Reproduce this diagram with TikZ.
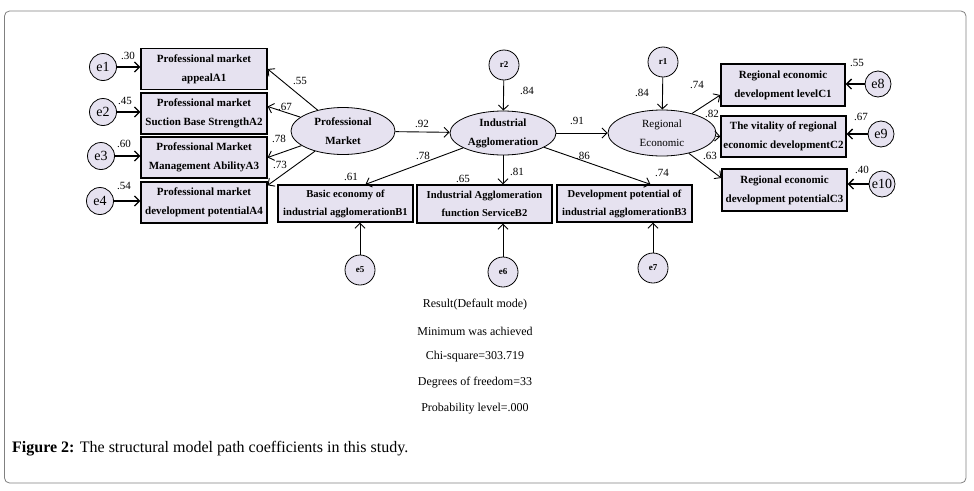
\documentclass[tikz,border=0pt]{standalone}
\usepackage{fontspec}
\setmainfont{Liberation Serif}
\usetikzlibrary{arrows.meta,shapes.geometric}
\definecolor{lav}{RGB}{230,226,240}

\begin{document}
\begin{tikzpicture}[x=1pt,y=-1pt,
    obs/.style={draw,line width=1.3pt,fill=lav,minimum width=126pt,minimum height=41pt,align=center,inner sep=1pt,font=\bfseries\fontsize{11}{19}\selectfont},
    lat/.style={draw,ellipse,fill=lav,line width=0.8pt,align=center,inner sep=0pt,font=\bfseries\fontsize{11}{19}\selectfont},
    err/.style={draw,circle,fill=lav,line width=0.8pt,inner sep=0pt,minimum size=27pt,font=\fontsize{14}{14}\selectfont},
    arr/.style={-{Straight Barb[length=5pt,width=10pt]},line width=0.9pt},
    coef/.style={inner sep=0pt,font=\fontsize{11}{11}\selectfont},
    stat/.style={inner sep=0pt,font=\fontsize{12}{12}\selectfont}]
    \useasboundingbox (0,0) rectangle (974,490);
    \draw[gray,rounded corners=5pt,line width=0.8pt] (4.5,11) rectangle (966,483);

    % professional market indicators
    \node[obs] (A1) at (204,69) {Professional market\\appealA1};
    \node[obs] (A2) at (204,113.5) {Professional market\\Suction Base StrengthA2};
    \node[obs] (A3) at (204,157.5) {Professional Market\\Management AbilityA3};
    \node[obs] (A4) at (204,202.5) {Professional market\\development potentialA4};
    \foreach \i/\x/\y in {1/103/67,2/103/112,3/101/156,4/100/201}{
        \node[err] (e\i) at (\x,\y) {e\i};
        \draw[arr,line width=1.3pt] (e\i) -- (e\i -| A\i.west);
    }

    % latent variables
    \node[lat,minimum width=104pt,minimum height=47pt] (PM) at (343,131) {Professional\\Market};
    \node[lat,minimum width=106pt,minimum height=44pt] (IA) at (503,133) {Industrial\\Agglomeration};
    \node[lat,minimum width=108pt,minimum height=46pt,font=\fontsize{11}{19}\selectfont] (RE) at (662,133) {Regional\\Economic};
    \node[err,minimum size=30pt,font=\bfseries\small] (r2) at (504,65) {r2};
    \node[err,minimum size=30pt,font=\bfseries\small] (r1) at (663,62) {r1};

    % industrial agglomeration indicators
    \node[obs,minimum width=135pt,minimum height=37pt,font=\bfseries\fontsize{10.6}{18}\selectfont] (B1) at (345.5,203.5) {Basic economy of\\industrial agglomerationB1};
    \node[obs,minimum width=135pt,minimum height=38pt,font=\bfseries\fontsize{10.6}{18}\selectfont] (B2) at (484.5,204) {Industrial Agglomeration\\function ServiceB2};
    \node[obs,minimum width=135pt,minimum height=37pt,font=\bfseries\fontsize{10.6}{18}\selectfont] (B3) at (624.5,203.5) {Development potential of\\industrial agglomerationB3};
    \foreach \i/\b/\x/\y in {5/B1/360/270,6/B2/503/272,7/B3/653/268}{
        \node[err,minimum size=30pt,font=\bfseries\small] (e\i) at (\x,\y) {e\i};
        \draw[arr] (e\i) -- (e\i |- \b.south);
    }

    % regional economic indicators
    \node[obs,minimum width=124pt,minimum height=42pt] (C1) at (783,85) {Regional economic\\development levelC1};
    \node[obs,minimum width=125pt,minimum height=41pt] (C2) at (783.5,136.5) {The vitality of regional\\economic developmentC2};
    \node[obs,minimum width=125pt,minimum height=42pt] (C3) at (784.5,190) {Regional economic\\development potentialC3};
    \foreach \i/\c/\x/\y in {8/C1/878/84,9/C2/881/134,10/C3/882/184}{
        \node[err,minimum size=26pt] (e\i) at (\x,\y) {e\i};
        \draw[arr,line width=1.3pt] (e\i) -- (e\i -| \c.east);
    }

    % paths
    \draw[arr] (PM) -- (A1.east);
    \draw[arr] (PM) -- ([yshift=7pt]A2.east);
    \draw[arr] (PM) -- (A3.east);
    \draw[arr] (PM) -- ([yshift=-4pt]A4.north east);
    \draw[arr] (PM) -- (IA);
    \draw[arr] (IA) -- (RE);
    \draw[arr] (r2) -- (IA);
    \draw[arr] (r1) -- (RE);
    \draw[arr] (IA) -- ([xshift=20pt]B1.north);
    \draw[arr] (IA.south) -- (IA.south |- B2.north);
    \draw[arr] (IA) -- ([xshift=26pt]B3.north);
    \draw[arr] (RE) -- ([yshift=-10pt]C1.west);
    \draw[arr] (RE) -- (C2.west);
    \draw[arr] (RE) -- ([yshift=12pt]C3.west);

    % coefficients
    \foreach \n/\x/\y/\v in {c1/128/56/.30,c2/125/101/.45,c3/124/144/.60,c4/124/186/.54,
        c5/300/81/.55,c6/285/107/.67,c7/279/139/.78,c8/280/165/.73,
        c9/422/124/.92,c10/527/91/.84,c11/577/121/.91,c12/642/93/.84,
        c13/423/156/.78,c14/351/177/.61,c15/517/172/.81,c16/463/179/.65,
        c17/583/156/.86,c18/662/173/.74,c19/697/85/.74,c20/712/114/.82,
        c21/710/156/.63,c22/857/63/.55,c23/861/117/.67,c24/862/170/.40}
        \node[coef] (\n) at (\x,\y) {\v};

    % fit results
    \node[stat] (s1) at (475,305) {Result(Default mode)};
    \node[stat] (s2) at (475,331) {Minimum was achieved};
    \node[stat] (s3) at (475,357) {Chi-square=303.719};
    \node[stat] (s4) at (475,383) {Degrees of freedom=33};
    \node[stat] (s5) at (475,409) {Probability level=.000};

    % caption
    \node[anchor=west,inner sep=0pt,font=\fontsize{16}{16}\selectfont] (cap) at (12,449) {\textbf{Figure 2:} The structural model path coefficients in this study.};
\end{tikzpicture}
\end{document}
